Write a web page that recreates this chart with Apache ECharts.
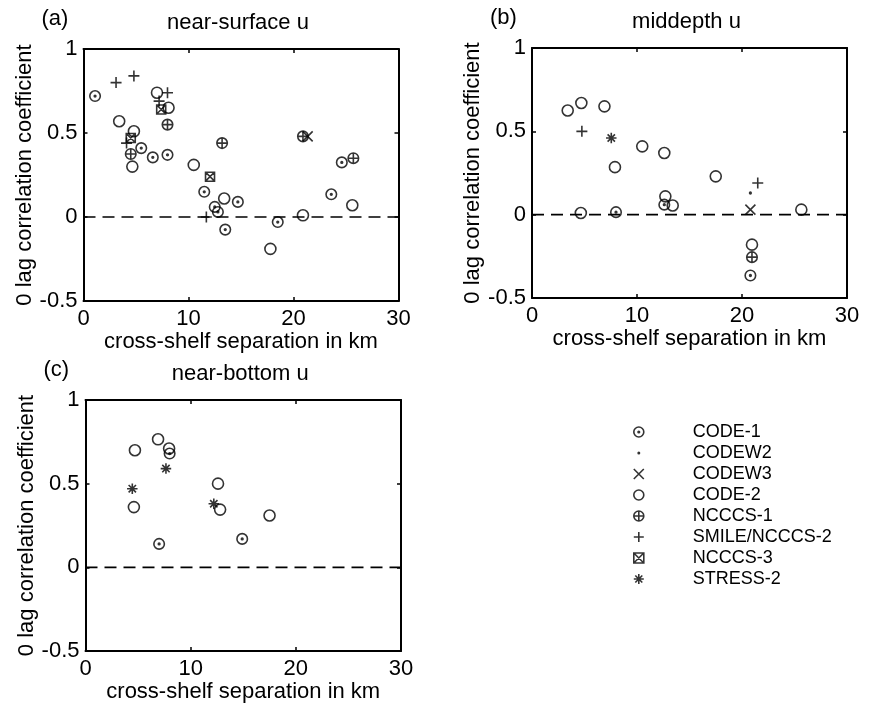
<!DOCTYPE html>
<html><head><meta charset="utf-8">
<script src="https://cdn.jsdelivr.net/npm/echarts@6/dist/echarts.min.js"></script>
<style>html,body{margin:0;padding:0;background:#fff}#c{width:878px;height:707px}</style>
</head><body><div id="c"></div>
<script>
// ---------- data ----------
const seriesNames = ['CODE-1','CODEW2','CODEW3','CODE-2','NCCCS-1','SMILE/NCCCS-2','NCCCS-3','STRESS-2'];
const panelLetters = ['(a)','(b)','(c)'];
const panelTitles = ['near-surface u','middepth u','near-bottom u'];
const xLabel = 'cross-shelf separation in km';
const yLabel = '0 lag correlation coefficient';
const xRange = [0, 30], xStep = 10;
const yRange = [-0.5, 1], yStep = 0.5;
const zeroLine = [[0, 0], [30, 0]];

// panel (a) near-surface u
const a_CODE1  = [[1.1,0.72],[5.5,0.41],[6.6,0.355],[8.0,0.37],[11.5,0.15],[14.7,0.09],[12.5,0.06],[12.8,0.03],[13.5,-0.075],[18.5,-0.03],[23.6,0.135],[24.6,0.325]];
const a_CODEW3 = [[21.35,0.48]];
const a_CODE2  = [[7.0,0.74],[8.1,0.65],[3.4,0.57],[4.8,0.51],[4.65,0.30],[10.5,0.31],[13.4,0.11],[17.8,-0.19],[20.9,0.01],[25.6,0.07]];
const a_NCCCS1 = [[8.0,0.55],[4.5,0.375],[13.2,0.44],[20.9,0.48],[25.7,0.35]];
const a_SMILE  = [[3.1,0.80],[4.8,0.84],[8.0,0.74],[7.2,0.69],[4.1,0.44],[11.7,0.0]];
const a_NCCCS3 = [[7.4,0.64],[4.5,0.47],[12.05,0.24]];

// panel (b) middepth u
const b_CODE1  = [[12.6,0.06],[8.0,0.015],[20.8,-0.365]];
const b_CODEW2 = [[20.8,0.13]];
const b_CODEW3 = [[20.8,0.03]];
const b_CODE2  = [[3.4,0.625],[4.7,0.67],[6.9,0.65],[7.9,0.285],[10.5,0.41],[12.6,0.37],[12.7,0.11],[13.4,0.055],[4.65,0.01],[17.5,0.23],[25.65,0.03],[20.95,-0.18]];
const b_NCCCS1 = [[20.95,-0.255]];
const b_SMILE  = [[4.75,0.50],[21.5,0.19]];
const b_STRESS = [[7.55,0.46]];

// panel (c) near-bottom u
const c_CODE1  = [[8.0,0.68],[7.0,0.14],[14.9,0.17]];
const c_CODE2  = [[4.7,0.70],[6.9,0.765],[7.95,0.71],[4.6,0.36],[12.6,0.50],[12.8,0.345],[17.5,0.31]];
const c_STRESS = [[4.45,0.47],[7.65,0.59],[12.2,0.38]];

// ---------- styling ----------
const FONT = 'Liberation Sans, Arial, Helvetica, sans-serif';
const CIRC = 'M0 50 A50 50 0 1 0 100 50 A50 50 0 1 0 0 50 Z';
const SYM = {
  'CODE-1': 'path://' + CIRC + ' M42 50 A8 8 0 1 0 58 50 A8 8 0 1 0 42 50 Z',
  'CODEW2': 'path://M0 0 M100 100 M35 50 A15 15 0 1 0 65 50 A15 15 0 1 0 35 50 Z',
  'CODEW3': 'path://M0 0 L100 100 M100 0 L0 100',
  'CODE-2': 'path://' + CIRC,
  'NCCCS-1': 'path://' + CIRC + ' M50 0 L50 100 M0 50 L100 50',
  'SMILE/NCCCS-2': 'path://M50 0 L50 100 M0 50 L100 50',
  'NCCCS-3': 'path://M0 0 L100 0 L100 100 L0 100 Z M0 0 L100 100 M100 0 L0 100',
  'STRESS-2': 'path://M50 0 L50 100 M0 50 L100 50 M15 15 L85 85 M85 15 L15 85'
};
const SIZE = {'CODE-1':10.5,'CODEW2':11,'CODEW3':10,'CODE-2':11,'NCCCS-1':10.5,'SMILE/NCCCS-2':11,'NCCCS-3':9,'STRESS-2':10.5};

const grids = [
  {left: 83.5, top: 49, width: 315, height: 252},
  {left: 532, top: 48, width: 315, height: 250},
  {left: 85.5, top: 400, width: 315.5, height: 251}
];
const panelData = [
  {'CODE-1': a_CODE1, 'CODEW3': a_CODEW3, 'CODE-2': a_CODE2, 'NCCCS-1': a_NCCCS1, 'SMILE/NCCCS-2': a_SMILE, 'NCCCS-3': a_NCCCS3},
  {'CODE-1': b_CODE1, 'CODEW2': b_CODEW2, 'CODEW3': b_CODEW3, 'CODE-2': b_CODE2, 'NCCCS-1': b_NCCCS1, 'SMILE/NCCCS-2': b_SMILE, 'STRESS-2': b_STRESS},
  {'CODE-1': c_CODE1, 'CODE-2': c_CODE2, 'STRESS-2': c_STRESS}
];

const axLine = {show: true, onZero: false, lineStyle: {color: '#000', width: 2}};
const axTick = {show: true, inside: true, length: 4, lineStyle: {color: '#000', width: 1.5}};
const xAxes = [], yAxes = [], series = [], graphics = [];

grids.forEach((g, i) => {
  xAxes.push({gridIndex: i, type: 'value', position: 'bottom', min: xRange[0], max: xRange[1], interval: xStep,
    axisLine: axLine, axisTick: axTick, splitLine: {show: false},
    axisLabel: {color: '#000', fontSize: 22, fontFamily: FONT, margin: 7},
    name: xLabel, nameLocation: 'middle', nameGap: 29,
    nameTextStyle: {color: '#000', fontSize: 22, fontFamily: FONT}});
  xAxes.push({gridIndex: i, type: 'value', position: 'top', min: xRange[0], max: xRange[1], interval: xStep,
    axisLine: axLine, axisTick: axTick, splitLine: {show: false}, axisLabel: {show: false}});
  yAxes.push({gridIndex: i, type: 'value', position: 'left', min: yRange[0], max: yRange[1], interval: yStep,
    axisLine: axLine, axisTick: axTick, splitLine: {show: false},
    axisLabel: {color: '#000', fontSize: 22, fontFamily: FONT, margin: 6},
    name: yLabel, nameLocation: 'middle', nameGap: 48,
    nameTextStyle: {color: '#000', fontSize: 22, fontFamily: FONT}});
  yAxes.push({gridIndex: i, type: 'value', position: 'right', min: yRange[0], max: yRange[1], interval: yStep,
    axisLine: axLine, axisTick: axTick, splitLine: {show: false}, axisLabel: {show: false}});

  series.push({type: 'line', name: 'zero', data: zeroLine, xAxisIndex: 2*i, yAxisIndex: 2*i,
    symbol: 'none', silent: true, z: 1,
    lineStyle: {color: '#000', width: 1.6, type: [12, 7]}});

  seriesNames.forEach(n => {
    const d = panelData[i][n];
    if (!d) return;
    const isDot = n === 'CODEW2';
    series.push({type: 'scatter', name: n, data: d, xAxisIndex: 2*i, yAxisIndex: 2*i,
      symbol: SYM[n], symbolSize: SIZE[n],
      itemStyle: {color: isDot ? '#000' : 'rgba(0,0,0,0)', borderColor: '#000', borderWidth: isDot ? 0 : 1.6},
      emphasis: {disabled: true}});
  });

  const cx = g.left + g.width / 2;
  graphics.push({type: 'text', x: cx - 3, y: g.top - 26, style: {text: panelTitles[i], font: '22px ' + FONT, fill: '#000', align: 'center', verticalAlign: 'middle'}});
  graphics.push({type: 'text', x: g.left - 42, y: g.top - 30, style: {text: panelLetters[i], font: '22px ' + FONT, fill: '#000', align: 'left', verticalAlign: 'middle'}});
});

const chart = echarts.init(document.getElementById('c'), null, {renderer: 'canvas'});
chart.setOption({
  animation: false,
  backgroundColor: '#fff',
  grid: grids,
  xAxis: xAxes,
  yAxis: yAxes,
  series: series,
  graphic: graphics,
  legend: {
    data: seriesNames, orient: 'vertical', left: 628, top: 416.5,
    itemWidth: 10, itemHeight: 10, itemGap: 0, symbolKeepAspect: true,
    itemStyle: {borderWidth: 'inherit'},
    textStyle: {color: '#000', fontSize: 18, lineHeight: 21, fontFamily: FONT, padding: [0, 0, 0, 44]}
  }
});
</script></body></html>
